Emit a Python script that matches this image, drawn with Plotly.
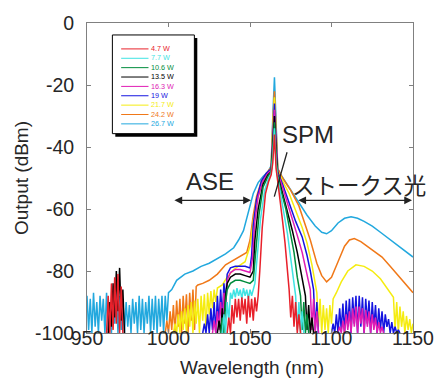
import plotly.graph_objects as go

# ---------------- data ----------------
series_names = ["4.7 W", "7.7 W", "10.6 W", "13.5 W", "16.3 W", "19 W", "21.7 W", "24.2 W", "26.7 W"]
series_colors = ["#e8202a", "#3fe3e3", "#008c3c", "#000000", "#e01cb4", "#1414e0", "#f5ec10", "#f07818", "#22a8de"]

# Each spectrum: list of chunks. ("n", start_nm, values at 1 nm steps) = noisy part,
# ("s", [(nm, dBm), ...]) = smooth part, "gap" = no visible signal.
spec_26_7 = [
    ("n", 950, [-88, -99, -89, -100, -87, -98, -90, -100, -88, -96, -89, -100, -87, -99, -90, -100, -88, -97,
                -86, -100, -88, -99, -89, -100, -90, -98, -91, -100, -89, -97, -90, -100, -88, -99, -89, -100,
                -90, -97, -88, -100, -89, -99, -88, -100, -89, -98, -88, -100, -88, -96, -87]),
    ("s", [(1002, -86), (1005, -83), (1010, -81), (1015, -80), (1020, -78.5), (1025, -77.5), (1030, -76),
           (1035, -74.5), (1040, -72.5), (1043, -70), (1046, -67), (1048, -63), (1050, -59), (1052, -55),
           (1055, -51.5), (1058, -49.5), (1061, -48), (1063, -46), (1064, -30), (1065, -17.5), (1066, -32),
           (1067, -47), (1069, -49), (1072, -51.5), (1075, -54), (1080, -58), (1085, -62), (1090, -65.5),
           (1094, -67.5), (1097, -68), (1100, -67), (1104, -64.5), (1108, -63), (1112, -62.5), (1116, -63),
           (1120, -64), (1125, -65.5), (1130, -67.5), (1135, -69.5), (1140, -71.5), (1145, -73.5), (1150, -75.5)]),
]
spec_24_2 = [
    ("n", 998, [-100, -96, -100, -93, -99, -91, -100, -89.5, -98, -89, -100, -88, -97, -87.5, -100, -87, -96,
                -86, -99, -85, -84.5]),
    ("s", [(1021, -84), (1025, -83), (1030, -81), (1035, -78), (1040, -76.5), (1045, -75), (1048, -74),
           (1050, -70), (1052, -62), (1054, -56), (1057, -51), (1060, -48.5), (1063, -46.5), (1064, -32),
           (1065, -22), (1066, -34), (1067, -47), (1070, -50), (1075, -54), (1080, -59), (1083, -63.5),
           (1087, -70), (1091, -77.5), (1094, -81.5), (1097, -83.5), (1100, -82), (1104, -77), (1108, -72),
           (1111, -70), (1114, -69.5), (1118, -70.5), (1122, -72), (1126, -73.5), (1131, -75.5), (1136, -78.5),
           (1140, -81), (1145, -84), (1150, -87)]),
]
spec_21_7 = [
    ("n", 1003, [-100, -97, -100, -94, -100, -93, -99, -92, -100, -91, -98, -90, -100, -89.5, -97, -89, -100,
                 -88, -96, -87.5, -99, -87, -94, -86.5, -92, -86, -90, -85.5]),
    ("s", [(1033, -84.5), (1036, -82), (1040, -79.5), (1044, -78), (1047, -77), (1050, -72), (1052, -64),
           (1054, -58), (1057, -52), (1060, -49), (1063, -47), (1064, -33), (1065, -24), (1066, -35),
           (1067, -47.5), (1070, -51), (1074, -55), (1078, -60.5), (1082, -66), (1085, -71), (1088, -78),
           (1090, -84)]),
    ("n", 1091, [-87, -98, -89, -100, -91, -99, -92, -100, -91, -97, -89]),
    ("s", [(1103, -87), (1106, -83.5), (1110, -80), (1115, -78), (1120, -78.5), (1125, -80), (1130, -82.5),
           (1135, -86), (1138, -88.5)]),
    ("n", 1139, [-99, -90, -100, -91.5, -98, -93, -100, -94.5, -99, -95.5, -100, -97]),
]
spec_19 = [
    ("n", 1021, [-100, -97, -100, -94, -100, -92, -99, -90, -100, -88, -97, -86, -95, -84, -90]),
    ("s", [(1036, -81), (1038, -79), (1041, -78.5), (1044, -78.5), (1047, -78.5), (1050, -79), (1051, -75),
           (1052, -65), (1054, -57), (1057, -51), (1060, -48.5), (1063, -47), (1064, -35), (1065, -26),
           (1066, -37), (1067, -48), (1070, -52), (1074, -58), (1078, -64), (1082, -69), (1085, -75),
           (1087, -80), (1089, -86)]),
    ("n", 1090, [-99, -90, -100]),
    "gap",
    ("n", 1100, [-100, -97, -100, -94, -100, -92, -99, -90.5, -100, -89.5, -98, -89, -100, -88.5, -97, -88,
                 -100, -88, -98, -88.5, -100, -89, -97, -89.5, -100, -90, -98, -91, -100, -92, -99, -93, -100,
                 -94, -98, -95.5, -100, -96.5, -100, -98, -100, -99, -100]),
]
spec_16_3 = [
    ("n", 1027, [-100, -96, -100, -93, -99, -90, -97, -87, -93]),
    ("s", [(1036, -83), (1038, -80.5), (1041, -79.5), (1044, -79.5), (1047, -80), (1050, -80.5),
           (1051.5, -76), (1053, -64), (1055, -56), (1058, -51), (1061, -48.5), (1063, -47.5), (1064, -37),
           (1065, -28), (1066, -39), (1067, -48.5), (1070, -53), (1073, -58), (1076, -63.5), (1079, -68.5),
           (1082, -74), (1085, -81), (1087, -86)]),
    ("n", 1088, [-99, -89, -100, -93, -100]),
    "gap",
    ("n", 1104, [-100, -98, -100, -96, -100, -94, -99, -93, -100, -92, -98, -91.5, -100, -91.5, -97, -92,
                 -100, -92.5, -98, -93, -100, -94, -99, -95, -100, -96.5, -100, -98, -100]),
]
spec_13_5 = [
    ("n", 963, [-100, -90, -98, -84, -95, -80, -93, -79, -96, -86, -100]),
    "gap",
    ("n", 1030, [-100, -96, -100, -92, -98, -88]),
    ("s", [(1036, -84), (1038, -82), (1041, -81), (1044, -81), (1047, -81.5), (1050, -82), (1052, -80),
           (1053, -70), (1055, -60), (1058, -52), (1061, -49), (1063, -48), (1064, -39), (1065, -30),
           (1066, -41), (1067, -49), (1070, -55), (1073, -61), (1076, -67), (1079, -74), (1082, -82),
           (1084, -88)]),
    ("n", 1085, [-99, -91, -100, -95, -100]),
]
spec_10_6 = [
    ("n", 1032, [-100, -95, -100, -90]),
    ("s", [(1036, -86), (1038, -84), (1041, -83), (1044, -83), (1047, -83.5), (1050, -84), (1052, -83),
           (1053.5, -74), (1055.5, -62), (1058, -53), (1061, -49.5), (1063, -48), (1064, -41), (1065, -32),
           (1066, -43), (1067, -49.5), (1069, -54), (1072, -60), (1074.5, -67), (1077, -74), (1079, -82),
           (1081, -88)]),
    ("n", 1082, [-99, -90, -100, -94, -100]),
]
spec_7_7 = [
    ("n", 1033, [-100, -94, -100, -90, -96, -87, -89, -86, -88.5, -85.5, -88, -86, -89, -85.5, -88, -86, -89,
                 -86, -88, -86]),
    ("s", [(1053, -84), (1054.5, -75), (1056.5, -63), (1059, -54), (1061.5, -50), (1063, -48.5), (1064, -43),
           (1065, -34), (1066, -45), (1067, -50), (1069, -56), (1071, -62), (1073, -68), (1075, -76),
           (1076.5, -83), (1078, -88)]),
    ("n", 1079, [-99, -90, -100, -93, -100]),
]
spec_4_7 = [
    ("n", 962, [-100, -88, -100, -84, -99, -82, -97, -81, -100, -85, -100]),
    "gap",
    ("n", 1036, [-100, -95, -100, -91, -97, -89, -95, -89, -96, -88.5, -94, -89, -97, -88, -95, -89, -96,
                 -88.5, -93, -88]),
    ("s", [(1056, -80), (1057.5, -66), (1059.5, -55), (1061.5, -51), (1063, -49), (1064, -45), (1065, -36),
           (1066, -47), (1067, -51), (1068.5, -57), (1070, -64), (1071.5, -71), (1073, -79), (1074, -86)]),
    ("n", 1075, [-95, -88, -98, -90, -100, -94, -100]),
]
spectra = [spec_4_7, spec_7_7, spec_10_6, spec_13_5, spec_16_3, spec_19, spec_21_7, spec_24_2, spec_26_7]

x_ticks = [950, 1000, 1050, 1100, 1150]
y_ticks = [-100, -80, -60, -40, -20, 0]
x_title = "Wavelength (nm)"
y_title = "Output (dBm)"


def build(chunks):
    xs, ys = [], []
    for c in chunks:
        if c == "gap":
            xs.append(None)
            ys.append(None)
        elif c[0] == "n":
            start, vals = c[1], c[2]
            xs.extend(start + i for i in range(len(vals)))
            ys.extend(vals)
        else:
            for w, v in c[1]:
                xs.append(w)
                ys.append(v)
    return xs, ys


fig = go.Figure()
# highest power drawn first, lowest power on top
for name, color, chunks in reversed(list(zip(series_names, series_colors, spectra))):
    xs, ys = build(chunks)
    fig.add_trace(go.Scatter(x=xs, y=ys, mode="lines", name=name,
                             line=dict(color=color, width=1.5), connectgaps=False,
                             showlegend=False, hoverinfo="skip"))

# ---------------- layout ----------------
W, H = 446, 381
ML, MR, MT, MB = 87, 25, 22, 48
PW, PH = W - ML - MR, H - MT - MB


def px_x(p):
    return (p - ML) / PW


def px_y(p):
    return (H - MB - p) / PH


axis_col = "#808080"
txt_col = "#262626"
base_font = "Liberation Sans, Arial, sans-serif"

shapes = [
    dict(type="rect", xref="paper", yref="paper", x0=px_x(116), x1=px_x(200), y0=px_y(136), y1=px_y(37),
         fillcolor="black", line=dict(width=0), layer="above"),
    dict(type="rect", xref="paper", yref="paper", x0=px_x(113), x1=px_x(197), y0=px_y(133), y1=px_y(34),
         fillcolor="white", line=dict(color="black", width=1), layer="above"),
]
LEG_TOP, LEG_STEP = 48, 9.4
for i, color in enumerate(series_colors):
    yy = LEG_TOP + i * LEG_STEP
    shapes.append(dict(type="line", xref="paper", yref="paper", x0=px_x(122), x1=px_x(150),
                       y0=px_y(yy), y1=px_y(yy), line=dict(color=color, width=1), layer="above"))

legend_text = "<br>".join(f'<span style="color:{c}">{n}</span>' for n, c in zip(series_names, series_colors))
leg_font = LEG_STEP / 1.3
annotations = [
    dict(xref="paper", yref="paper", x=px_x(152), y=px_y(LEG_TOP + 4 * LEG_STEP), text=legend_text,
         showarrow=False, xanchor="left", yanchor="middle", align="left", borderpad=0,
         font=dict(family=base_font, size=leg_font, color=txt_col)),
    # x-axis title
    dict(xref="paper", yref="paper", x=px_x(256), y=px_y(368), text=x_title, showarrow=False,
         xanchor="center", yanchor="middle", borderpad=0,
         font=dict(family=base_font, size=19, color=txt_col)),
]

# region labels and arrows
annotations += [
    dict(x=1025.4, y=-51.1, text="ASE", showarrow=False, font=dict(family=base_font, size=24, color=txt_col)),
    dict(x=1085.3, y=-36.0, text="SPM", showarrow=False, font=dict(family=base_font, size=24, color=txt_col)),
    dict(x=1117.0, y=-51.8, text="ストークス光", showarrow=False,
         font=dict(family="Noto Sans CJK JP, sans-serif", size=22.5, color=txt_col)),
    dict(x=1050.6, y=-57.2, ax=1002.7, ay=-57.2, axref="x", ayref="y", text="", showarrow=True,
         arrowside="end+start", arrowhead=2, arrowsize=1.3, arrowwidth=1.2, arrowcolor="#222"),
    dict(x=1149.4, y=-57.2, ax=1078.7, ay=-57.2, axref="x", ayref="y", text="", showarrow=True,
         arrowside="end+start", arrowhead=2, arrowsize=1.3, arrowwidth=1.2, arrowcolor="#222"),
    dict(x=1064.9, y=-56, ax=1073, ay=-41.2, axref="x", ayref="y", text="", showarrow=True,
         arrowhead=0, arrowwidth=1.3, arrowcolor="#222"),
]

fig.update_layout(
    width=W, height=H,
    margin=dict(l=ML, r=MR, t=MT, b=MB),
    paper_bgcolor="white", plot_bgcolor="white",
    showlegend=False,
    shapes=shapes, annotations=annotations,
    font=dict(family=base_font, color=txt_col),
)
fig.update_xaxes(range=[950, 1150], tickvals=x_ticks, ticktext=[str(v) for v in x_ticks],
                 ticks="inside", ticklen=4, tickcolor=axis_col, showline=True, linecolor=axis_col,
                 linewidth=1, mirror="ticks", showgrid=False, zeroline=False,
                 ticklabelstandoff=-12,
                 tickfont=dict(size=19.5, color=txt_col))
fig.update_yaxes(range=[-100, 0], tickvals=y_ticks, ticktext=[str(v) for v in y_ticks],
                 ticks="inside", ticklen=4, tickcolor=axis_col, showline=True, linecolor=axis_col,
                 linewidth=1, mirror="ticks", showgrid=False, zeroline=False,
                 ticklabelstandoff=8,
                 tickfont=dict(size=19.5, color=txt_col),
                 title=dict(text=y_title, font=dict(size=19, color=txt_col), standoff=1))

fig.write_html("out.html", config={"displayModeBar": False},
               post_script="document.body.style.margin='0';document.body.style.overflow='hidden';")
